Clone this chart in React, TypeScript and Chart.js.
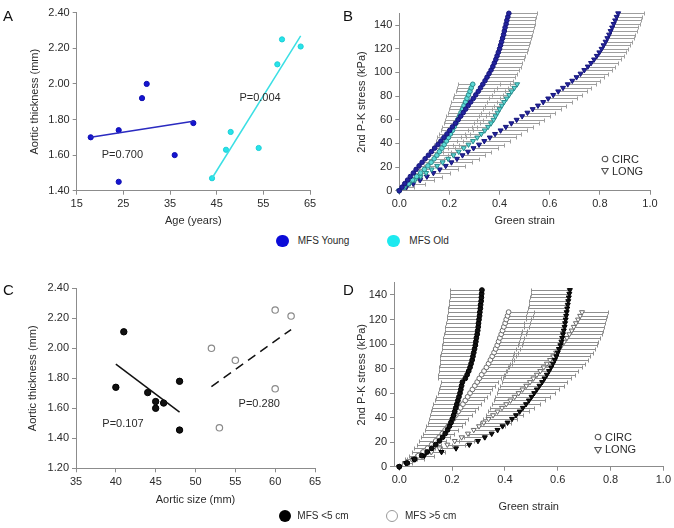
import React, { useEffect, useRef } from "react";
import { Chart, registerables } from "chart.js";

Chart.register(...registerables);

const FONT = "'Liberation Sans', Arial, Helvetica, sans-serif";
const TEXT = "#2b2b2b";
const AXIS = "#8c8c8c";

// ---------- Panel A : thickness vs age ----------
const youngAge = [18, 24, 24, 29, 30, 36, 40];
const youngThick = [1.70, 1.74, 1.45, 1.92, 2.00, 1.60, 1.78];
const oldAge = [44, 47, 48, 54, 58, 59, 63];
const oldThick = [1.47, 1.63, 1.73, 1.64, 2.11, 2.25, 2.21];
const youngFitAge = [18, 40];
const youngFitThick = [1.70, 1.79];
const oldFitAge = [44, 63];
const oldFitThick = [1.47, 2.27];

// ---------- Panel C : thickness vs aortic size ----------
const smallSize = [40, 41, 44, 45, 45, 46, 48, 48];
const smallThick = [1.74, 2.11, 1.705, 1.645, 1.60, 1.635, 1.78, 1.455];
const largeSize = [52, 53, 55, 60, 60, 62];
const largeThick = [2.00, 1.47, 1.92, 2.255, 1.73, 2.215];
const smallFitSize = [40, 48];
const smallFitThick = [1.895, 1.575];
const largeFitSize = [52, 62];
const largeFitThick = [1.745, 2.125];

// ---------- Panel B : stress-strain, young vs old ----------
const stress150 = [0, 3, 6, 9, 12, 15, 18, 21, 24, 27, 30, 33, 36, 39, 42, 45, 48, 51, 54, 57, 60, 63, 66, 69, 72, 75, 78, 81, 84, 87, 90, 93, 96, 99, 102, 105, 108, 111, 114, 117, 120, 123, 126, 129, 132, 135, 138, 141, 144, 147, 150];
const youngCircStrain = [0, 0.011, 0.022, 0.033, 0.044, 0.056, 0.067, 0.079, 0.091, 0.103, 0.116, 0.128, 0.141, 0.154, 0.166, 0.178, 0.190, 0.201, 0.212, 0.224, 0.235, 0.245, 0.255, 0.265, 0.275, 0.285, 0.295, 0.305, 0.315, 0.324, 0.333, 0.342, 0.350, 0.358, 0.366, 0.373, 0.379, 0.385, 0.390, 0.395, 0.400, 0.404, 0.408, 0.412, 0.416, 0.419, 0.422, 0.426, 0.429, 0.433, 0.437];
const youngCircErr = [0, 0.020, 0.030, 0.040, 0.048, 0.055, 0.060, 0.065, 0.070, 0.074, 0.077, 0.080, 0.083, 0.086, 0.088, 0.090, 0.092, 0.094, 0.096, 0.098, 0.100, 0.101, 0.102, 0.103, 0.104, 0.105, 0.106, 0.107, 0.108, 0.109, 0.110, 0.110, 0.111, 0.111, 0.112, 0.112, 0.112, 0.113, 0.113, 0.113, 0.113, 0.114, 0.114, 0.114, 0.114, 0.114, 0.114, 0.114, 0.114, 0.113, 0.113];
const youngLongStrain = [0, 0.028, 0.056, 0.083, 0.110, 0.136, 0.161, 0.185, 0.208, 0.230, 0.252, 0.274, 0.296, 0.318, 0.339, 0.361, 0.382, 0.404, 0.425, 0.447, 0.468, 0.490, 0.511, 0.532, 0.553, 0.574, 0.594, 0.614, 0.634, 0.653, 0.672, 0.690, 0.707, 0.723, 0.738, 0.752, 0.765, 0.777, 0.788, 0.798, 0.807, 0.815, 0.823, 0.830, 0.837, 0.843, 0.849, 0.855, 0.861, 0.867, 0.873];
const youngLongErr = [0, 0.030, 0.045, 0.055, 0.062, 0.068, 0.073, 0.078, 0.082, 0.086, 0.090, 0.093, 0.096, 0.099, 0.101, 0.103, 0.105, 0.107, 0.108, 0.109, 0.110, 0.111, 0.112, 0.112, 0.113, 0.113, 0.113, 0.113, 0.113, 0.112, 0.112, 0.111, 0.111, 0.110, 0.110, 0.109, 0.109, 0.108, 0.108, 0.107, 0.107, 0.106, 0.106, 0.105, 0.105, 0.104, 0.104, 0.104, 0.103, 0.103, 0.103];
const stress90 = [0, 3, 6, 9, 12, 15, 18, 21, 24, 27, 30, 33, 36, 39, 42, 45, 48, 51, 54, 57, 60, 63, 66, 69, 72, 75, 78, 81, 84, 87, 90];
const oldCircStrain = [0, 0.018, 0.036, 0.053, 0.069, 0.085, 0.100, 0.114, 0.127, 0.139, 0.150, 0.160, 0.170, 0.179, 0.188, 0.196, 0.204, 0.212, 0.219, 0.226, 0.233, 0.240, 0.246, 0.252, 0.258, 0.264, 0.270, 0.276, 0.282, 0.287, 0.293];
const oldCircErr = [0, 0.010, 0.015, 0.020, 0.023, 0.026, 0.029, 0.031, 0.034, 0.036, 0.038, 0.039, 0.040, 0.042, 0.043, 0.044, 0.046, 0.047, 0.048, 0.049, 0.051, 0.052, 0.053, 0.055, 0.055, 0.056, 0.056, 0.057, 0.057, 0.058, 0.058];
const oldLongStrain = [0, 0.021, 0.042, 0.063, 0.085, 0.107, 0.129, 0.151, 0.173, 0.195, 0.216, 0.237, 0.257, 0.276, 0.294, 0.311, 0.327, 0.341, 0.354, 0.366, 0.376, 0.384, 0.392, 0.400, 0.409, 0.418, 0.428, 0.438, 0.448, 0.459, 0.470];
const oldLongErr = [0, 0.020, 0.030, 0.038, 0.044, 0.048, 0.051, 0.054, 0.056, 0.058, 0.060, 0.061, 0.062, 0.063, 0.064, 0.065, 0.065, 0.066, 0.066, 0.067, 0.067, 0.067, 0.068, 0.068, 0.068, 0.068, 0.069, 0.069, 0.069, 0.070, 0.070];

// ---------- Panel D : stress-strain, <5 cm vs >5 cm ----------
const stress144 = [0, 3, 6, 9, 12, 15, 18, 21, 24, 27, 30, 33, 36, 39, 42, 45, 48, 51, 54, 57, 60, 63, 66, 69, 72, 75, 78, 81, 84, 87, 90, 93, 96, 99, 102, 105, 108, 111, 114, 117, 120, 123, 126, 129, 132, 135, 138, 141, 144];
const smallCircStrain = [0, 0.030, 0.058, 0.085, 0.106, 0.123, 0.138, 0.152, 0.164, 0.174, 0.183, 0.190, 0.196, 0.201, 0.206, 0.210, 0.214, 0.218, 0.222, 0.226, 0.230, 0.233, 0.236, 0.239, 0.250, 0.257, 0.263, 0.268, 0.272, 0.276, 0.279, 0.282, 0.285, 0.288, 0.290, 0.292, 0.295, 0.297, 0.299, 0.300, 0.302, 0.304, 0.305, 0.307, 0.308, 0.310, 0.311, 0.312, 0.313];
const smallCircErr = [0, 0.020, 0.035, 0.048, 0.058, 0.066, 0.072, 0.077, 0.081, 0.084, 0.086, 0.088, 0.089, 0.090, 0.090, 0.090, 0.090, 0.089, 0.088, 0.087, 0.085, 0.083, 0.081, 0.080, 0.105, 0.110, 0.114, 0.117, 0.119, 0.121, 0.123, 0.124, 0.125, 0.125, 0.125, 0.125, 0.125, 0.125, 0.124, 0.124, 0.123, 0.123, 0.122, 0.122, 0.121, 0.121, 0.120, 0.120, 0.120];
const smallLongStrain = [0, 0.025, 0.055, 0.095, 0.160, 0.215, 0.265, 0.298, 0.324, 0.350, 0.372, 0.391, 0.410, 0.427, 0.442, 0.456, 0.468, 0.480, 0.491, 0.501, 0.511, 0.521, 0.531, 0.541, 0.550, 0.559, 0.567, 0.575, 0.582, 0.589, 0.595, 0.600, 0.605, 0.610, 0.614, 0.617, 0.620, 0.623, 0.626, 0.628, 0.630, 0.632, 0.634, 0.636, 0.638, 0.640, 0.642, 0.644, 0.646];
const smallLongErr = [0, 0.015, 0.025, 0.035, 0.045, 0.055, 0.065, 0.072, 0.079, 0.086, 0.092, 0.098, 0.104, 0.110, 0.115, 0.120, 0.125, 0.130, 0.134, 0.138, 0.142, 0.146, 0.150, 0.153, 0.156, 0.158, 0.160, 0.162, 0.163, 0.164, 0.164, 0.164, 0.163, 0.162, 0.161, 0.160, 0.158, 0.157, 0.155, 0.154, 0.152, 0.151, 0.150, 0.149, 0.148, 0.147, 0.146, 0.146, 0.146];
const stress126 = [0, 3, 6, 9, 12, 15, 18, 21, 24, 27, 30, 33, 36, 39, 42, 45, 48, 51, 54, 57, 60, 63, 66, 69, 72, 75, 78, 81, 84, 87, 90, 93, 96, 99, 102, 105, 108, 111, 114, 117, 120, 123, 126];
const largeCircStrain = [0, 0.027, 0.051, 0.072, 0.090, 0.107, 0.123, 0.138, 0.151, 0.163, 0.174, 0.185, 0.195, 0.205, 0.214, 0.223, 0.232, 0.241, 0.250, 0.259, 0.268, 0.277, 0.286, 0.295, 0.303, 0.312, 0.321, 0.330, 0.338, 0.345, 0.352, 0.359, 0.365, 0.371, 0.376, 0.381, 0.386, 0.391, 0.396, 0.401, 0.405, 0.410, 0.414];
const largeCircErr = [0, 0.010, 0.016, 0.021, 0.026, 0.030, 0.034, 0.038, 0.042, 0.045, 0.048, 0.051, 0.054, 0.057, 0.060, 0.063, 0.065, 0.068, 0.070, 0.072, 0.074, 0.076, 0.078, 0.080, 0.082, 0.083, 0.085, 0.086, 0.087, 0.088, 0.089, 0.090, 0.091, 0.092, 0.092, 0.093, 0.093, 0.094, 0.094, 0.094, 0.095, 0.095, 0.095];
const largeLongStrain = [0, 0.030, 0.060, 0.090, 0.122, 0.152, 0.182, 0.210, 0.236, 0.260, 0.282, 0.302, 0.320, 0.338, 0.355, 0.372, 0.389, 0.405, 0.421, 0.437, 0.452, 0.467, 0.481, 0.495, 0.508, 0.521, 0.534, 0.547, 0.559, 0.571, 0.583, 0.594, 0.605, 0.615, 0.625, 0.635, 0.644, 0.653, 0.661, 0.669, 0.677, 0.685, 0.692];
const largeLongErr = [0, 0.020, 0.032, 0.042, 0.051, 0.059, 0.066, 0.073, 0.080, 0.086, 0.092, 0.098, 0.104, 0.109, 0.114, 0.119, 0.123, 0.127, 0.131, 0.134, 0.137, 0.139, 0.141, 0.142, 0.143, 0.144, 0.144, 0.144, 0.143, 0.142, 0.140, 0.138, 0.135, 0.132, 0.129, 0.126, 0.122, 0.118, 0.114, 0.110, 0.106, 0.103, 0.100];

// ---------- helpers ----------
const pts = (xs: number[], ys: number[]) => xs.map((x, i) => ({ x, y: ys[i] }));

const errorBarPlugin = {
  id: "hErrorBars",
  beforeDatasetsDraw(chart: any) {
    const { ctx } = chart;
    const xs = chart.scales.x;
    const ys = chart.scales.y;
    ctx.save();
    chart.data.datasets.forEach((ds: any) => {
      if (!ds.errs) return;
      ctx.strokeStyle = ds.errColor;
      ctx.lineWidth = 1;
      ds.data.forEach((p: any, i: number) => {
        const e = ds.errs[i];
        if (!e) return;
        const x0 = xs.getPixelForValue(p.x);
        const x1 = xs.getPixelForValue(p.x + ds.errDir * e);
        const y = Math.round(ys.getPixelForValue(p.y)) + 0.5;
        const xt = Math.round(x1) + 0.5;
        ctx.beginPath();
        ctx.moveTo(x0, y);
        ctx.lineTo(xt, y);
        ctx.moveTo(xt, y - 2);
        ctx.lineTo(xt, y + 2);
        ctx.stroke();
      });
    });
    ctx.restore();
  },
};

const makeTextPlugin = (items: { x: number; y: number; text: string }[]) => ({
  id: "pText",
  afterDatasetsDraw(chart: any) {
    const { ctx } = chart;
    ctx.save();
    ctx.fillStyle = TEXT;
    ctx.font = `11px ${FONT}`;
    ctx.textAlign = "center";
    ctx.textBaseline = "middle";
    items.forEach((it) => {
      ctx.fillText(it.text, chart.scales.x.getPixelForValue(it.x), chart.scales.y.getPixelForValue(it.y));
    });
    ctx.restore();
  },
});

function linAxis(o: { min: number; max: number; step: number; dec: number; title: string; size: number; tpad: number; horizontal: boolean }) {
  return {
    type: "linear",
    position: o.horizontal ? "bottom" : "left",
    min: o.min,
    max: o.max,
    border: { display: true, color: AXIS, width: 1 },
    grid: { display: true, drawOnChartArea: false, drawTicks: true, tickLength: 4, color: AXIS, lineWidth: 1 },
    ticks: {
      stepSize: o.step,
      includeBounds: false,
      autoSkip: false,
      maxRotation: 0,
      color: TEXT,
      padding: 3,
      font: { family: FONT, size: 11 },
      callback: (v: any) => Number(v).toFixed(o.dec),
    },
    title: {
      display: true,
      text: o.title,
      color: TEXT,
      font: { family: FONT, size: 11 },
      padding: o.horizontal ? { top: 0, bottom: o.tpad } : { top: o.tpad, bottom: 0 },
    },
    afterFit: (s: any) => {
      if (o.horizontal) s.height = o.size;
      else s.width = o.size;
    },
  };
}

const baseOptions = (padding: any, x: any, y: any) => ({
  responsive: false,
  animation: false,
  devicePixelRatio: 1,
  events: [],
  layout: { padding },
  plugins: { legend: { display: false }, tooltip: { enabled: false } },
  scales: { x, y },
});

const scat = (data: any, bg: string, border: string, r: number, extra: any = {}) => ({
  data,
  backgroundColor: bg,
  borderColor: border,
  borderWidth: 1,
  pointRadius: r,
  pointBackgroundColor: bg,
  pointBorderColor: border,
  clip: false,
  ...extra,
});

const fitLine = (data: any, color: string, dash: number[] = []) => ({
  data,
  showLine: true,
  borderColor: color,
  borderWidth: 1.5,
  borderDash: dash,
  pointRadius: 0,
  clip: false,
});

function configA(): any {
  return {
    type: "scatter",
    data: {
      datasets: [
        fitLine(pts(youngFitAge, youngFitThick), "#2a2ac0"),
        fitLine(pts(oldFitAge, oldFitThick), "#3adfe4"),
        scat(pts(youngAge, youngThick), "#1414d2", "#1010b0", 2.6),
        scat(pts(oldAge, oldThick), "#26e3ea", "#20cfd6", 2.6),
      ],
    },
    options: baseOptions(
      { left: 0, right: 20, top: 12.7, bottom: 4.3 },
      linAxis({ min: 15, max: 65, step: 10, dec: 0, title: "Age (years)", size: 37, tpad: 0, horizontal: true }),
      linAxis({ min: 1.4, max: 2.4, step: 0.2, dec: 2, title: "Aortic thickness (mm)", size: 76.7, tpad: 28.4, horizontal: false })
    ),
    plugins: [makeTextPlugin([{ x: 24.8, y: 1.6, text: "P=0.700" }, { x: 54.3, y: 1.92, text: "P=0.004" }])],
  };
}

function configC(): any {
  return {
    type: "scatter",
    data: {
      datasets: [
        fitLine(pts(smallFitSize, smallFitThick), "#111111"),
        fitLine(pts(largeFitSize, largeFitThick), "#111111", [9, 6]),
        scat(pts(smallSize, smallThick), "#111111", "#000000", 3.2),
        scat(pts(largeSize, largeThick), "#ffffff", "#8a8a8a", 3.2, { borderWidth: 1.2 }),
      ],
    },
    options: baseOptions(
      { left: 0, right: 15, top: 18.3, bottom: 3.4 },
      linAxis({ min: 35, max: 65, step: 5, dec: 0, title: "Aortic size (mm)", size: 38.3, tpad: 0, horizontal: true }),
      linAxis({ min: 1.2, max: 2.4, step: 0.2, dec: 2, title: "Aortic thickness (mm)", size: 76, tpad: 26.7, horizontal: false })
    ),
    plugins: [makeTextPlugin([{ x: 40.9, y: 1.495, text: "P=0.107" }, { x: 58.0, y: 1.629, text: "P=0.280" }])],
  };
}

const triExtra = { pointStyle: "triangle", rotation: 180 };

function configB(): any {
  const BAR = "#9e9e9e";
  return {
    type: "scatter",
    data: {
      datasets: [
        scat(pts(youngCircStrain, stress150), "#23239e", "#15157a", 2.3, { errs: youngCircErr, errDir: 1, errColor: BAR }),
        scat(pts(oldCircStrain, stress90), "#5cd9d6", "#2a8a8a", 2.3, { errs: oldCircErr, errDir: -1, errColor: BAR }),
        scat(pts(oldLongStrain, stress90), "#5cd9d6", "#2a8a8a", 2.9, { ...triExtra, errs: oldLongErr, errDir: -1, errColor: BAR }),
        scat(pts(youngLongStrain, stress150), "#23239e", "#15157a", 2.9, { ...triExtra, errs: youngLongErr, errDir: 1, errColor: BAR }),
      ],
    },
    options: baseOptions(
      { left: 0, right: 24, top: 13.3, bottom: 4.3 },
      linAxis({ min: 0, max: 1, step: 0.2, dec: 1, title: "Green strain", size: 37, tpad: 0, horizontal: true }),
      linAxis({ min: 0, max: 150, step: 20, dec: 0, title: "2nd P-K stress (kPa)", size: 62.3, tpad: 18.1, horizontal: false })
    ),
    plugins: [errorBarPlugin],
  };
}

function configD(): any {
  const BAR = "#8e8e8e";
  return {
    type: "scatter",
    data: {
      datasets: [
        scat(pts(smallCircStrain, stress144), "#111111", "#000000", 2.4, { errs: smallCircErr, errDir: -1, errColor: BAR }),
        scat(pts(smallLongStrain, stress144), "#111111", "#000000", 2.9, { ...triExtra, errs: smallLongErr, errDir: -1, errColor: BAR }),
        scat(pts(largeCircStrain, stress126), "#ffffff", "#6a6a6a", 2.4, { errs: largeCircErr, errDir: 1, errColor: BAR }),
        scat(pts(largeLongStrain, stress126), "#ffffff", "#6a6a6a", 2.9, { ...triExtra, errs: largeLongErr, errDir: 1, errColor: BAR }),
      ],
    },
    options: baseOptions(
      { left: 0, right: 8, top: 12.7, bottom: 14.1 },
      linAxis({ min: -0.02, max: 1, step: 0.2, dec: 1, title: "Green strain", size: 47.2, tpad: 0, horizontal: true }),
      linAxis({ min: 0, max: 150, step: 20, dec: 0, title: "2nd P-K stress (kPa)", size: 57, tpad: 18.1, horizontal: false })
    ),
    plugins: [errorBarPlugin],
  };
}

const abs = (left: number, top: number, extra: any = {}) => ({ position: "absolute" as const, left, top, ...extra });

function Letter({ x, y, t }: { x: number; y: number; t: string }) {
  return <div style={abs(x, y - 7.4, { fontSize: 15, lineHeight: "15px", color: "#111" })}>{t}</div>;
}

function MarkLegend({ x, y, gap }: { x: number; y: number; gap: number }) {
  return (
    <>
      <svg style={abs(x - 4, y - 4)} width={8} height={8}>
        <circle cx={4} cy={4} r={2.8} fill="none" stroke="#555" strokeWidth={1.1} />
      </svg>
      <div style={abs(x + 7, y - 6.4, { fontSize: 11, lineHeight: "13px", whiteSpace: "nowrap" })}>CIRC</div>
      <svg style={abs(x - 4, y + gap - 4)} width={8} height={8}>
        <polygon points="0.8,1.5 7.2,1.5 4,7" fill="none" stroke="#555" strokeWidth={1.1} />
      </svg>
      <div style={abs(x + 7, y + gap - 6.4, { fontSize: 11, lineHeight: "13px", whiteSpace: "nowrap" })}>LONG</div>
    </>
  );
}

function Dot({ cx, cy, d, fill, stroke }: { cx: number; cy: number; d: number; fill: string; stroke?: string }) {
  return (
    <div
      style={abs(cx - d / 2, cy - d / 2, {
        width: d,
        height: d,
        borderRadius: "50%",
        background: fill,
        boxSizing: "border-box",
        border: stroke ? `1px solid ${stroke}` : "none",
      })}
    />
  );
}

function Label({ x, cy, t }: { x: number; cy: number; t: string }) {
  return <div style={abs(x, cy - 6, { fontSize: 10, lineHeight: "12px", whiteSpace: "nowrap" })}>{t}</div>;
}

export default function App() {
  const refA = useRef<HTMLCanvasElement>(null);
  const refB = useRef<HTMLCanvasElement>(null);
  const refC = useRef<HTMLCanvasElement>(null);
  const refD = useRef<HTMLCanvasElement>(null);

  useEffect(() => {
    const charts = [
      new Chart(refA.current as HTMLCanvasElement, configA()),
      new Chart(refB.current as HTMLCanvasElement, configB()),
      new Chart(refC.current as HTMLCanvasElement, configC()),
      new Chart(refD.current as HTMLCanvasElement, configD()),
    ];
    return () => charts.forEach((c) => c.destroy());
  }, []);

  return (
    <div
      style={{
        position: "fixed",
        left: 0,
        top: 0,
        width: 674,
        height: 528,
        background: "#ffffff",
        fontFamily: FONT,
        color: TEXT,
        overflow: "hidden",
      }}
    >
      <canvas ref={refA} width={330} height={232} style={abs(0, 0, { width: 330, height: 232 })} />
      <canvas ref={refB} width={337} height={232} style={abs(337, 0, { width: 337, height: 232 })} />
      <canvas ref={refC} width={330} height={240} style={abs(0, 270, { width: 330, height: 240 })} />
      <canvas ref={refD} width={337} height={258} style={abs(337, 270, { width: 337, height: 258 })} />

      <Letter x={3} y={15} t="A" />
      <Letter x={343} y={15} t="B" />
      <Letter x={3} y={289} t="C" />
      <Letter x={343} y={289} t="D" />

      <MarkLegend x={605} y={159} gap={12} />
      <MarkLegend x={598} y={437} gap={12.5} />

      <Dot cx={282.7} cy={241} d={12.5} fill="#0b0bd8" />
      <Label x={297.7} cy={241} t="MFS Young" />
      <Dot cx={393.3} cy={241} d={12.5} fill="#1de9ef" />
      <Label x={409.3} cy={241} t="MFS Old" />

      <Dot cx={285} cy={516} d={12} fill="#000000" />
      <Label x={297.3} cy={516} t="MFS <5 cm" />
      <Dot cx={391.7} cy={516} d={12} fill="#ffffff" stroke="#999999" />
      <Label x={405} cy={516} t="MFS >5 cm" />
    </div>
  );
}
